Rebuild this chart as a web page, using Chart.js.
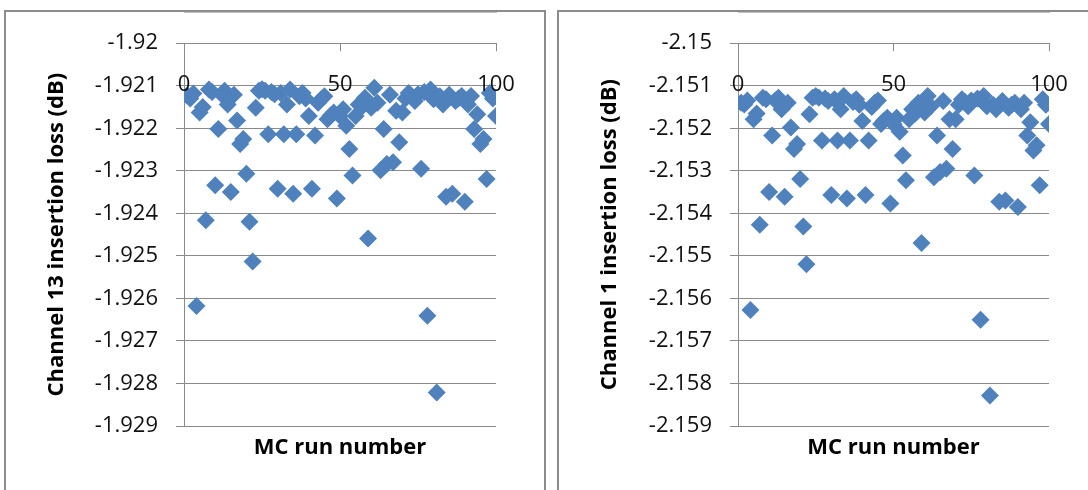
<!DOCTYPE html>
<html>
<head>
<meta charset="utf-8">
<script src="https://cdn.jsdelivr.net/npm/chart.js@4"></script>
<style>
  html, body { margin: 0; padding: 0; background: #fff; overflow: hidden; width: 1088px; height: 490px; }
  .panel { position: absolute; top: 10px; width: 538px; height: 480px; border: 2px solid #8c8c8c; background: #fff; }
  #p1 { left: 4px; }
  #p2 { left: 557px; }
  canvas { display: block; }
</style>
</head>
<body>
<div class="panel" id="p1"><canvas id="ch13" width="538" height="480"></canvas></div>
<div class="panel" id="p2"><canvas id="ch1" width="538" height="480"></canvas></div>
<script>
// MC run numbers
const runs = [1,2,3,4,5,6,7,8,9,10,11,12,13,14,15,16,17,18,19,20,
  21,22,23,24,25,26,27,28,29,30,31,32,33,34,35,36,37,38,39,40,
  41,42,43,44,45,46,47,48,49,50,51,52,53,54,55,56,57,58,59,60,
  61,62,63,64,65,66,67,68,69,70,71,72,73,74,75,76,77,78,79,80,
  81,82,83,84,85,86,87,88,89,90,91,92,93,94,95,96,97,98,99,100];

// channel 13 insertion loss (dB)
const ch13Loss = [
  -1.92123, -1.92130, -1.92118, -1.92618, -1.92163, -1.92150, -1.92416, -1.92109, -1.92115, -1.92334,
  -1.92202, -1.92120, -1.92112, -1.92144, -1.92350, -1.92121, -1.92182, -1.92237, -1.92225, -1.92307,
  -1.92420, -1.92513, -1.92152, -1.92112, -1.92108, -1.92112, -1.92214, -1.92115, -1.92120, -1.92342,
  -1.92117, -1.92214, -1.92144, -1.92109, -1.92354, -1.92214, -1.92125, -1.92117, -1.92130, -1.92171,
  -1.92342, -1.92217, -1.92140, -1.92132, -1.92125, -1.92179, -1.92170, -1.92163, -1.92365, -1.92171,
  -1.92155, -1.92194, -1.92249, -1.92311, -1.92171, -1.92144, -1.92150, -1.92128, -1.92459, -1.92152,
  -1.92105, -1.92140, -1.92299, -1.92202, -1.92284, -1.92121, -1.92280, -1.92159, -1.92233, -1.92163,
  -1.92130, -1.92117, -1.92125, -1.92136, -1.92120, -1.92295, -1.92115, -1.92641, -1.92109, -1.92132,
  -1.92821, -1.92125, -1.92144, -1.92361, -1.92121, -1.92354, -1.92136, -1.92130, -1.92124, -1.92373,
  -1.92144, -1.92124, -1.92202, -1.92167, -1.92237, -1.92225, -1.92319, -1.92117, -1.92130, -1.92171
];

// channel 1 insertion loss (dB)
const ch1Loss = [
  -2.15140, -2.15144, -2.15135, -2.15627, -2.15179, -2.15165, -2.15427, -2.15128, -2.15132, -2.15350,
  -2.15217, -2.15135, -2.15128, -2.15155, -2.15361, -2.15140, -2.15198, -2.15249, -2.15237, -2.15319,
  -2.15431, -2.15520, -2.15167, -2.15128, -2.15124, -2.15128, -2.15229, -2.15130, -2.15136, -2.15357,
  -2.15132, -2.15229, -2.15155, -2.15124, -2.15365, -2.15229, -2.15138, -2.15132, -2.15145, -2.15183,
  -2.15357, -2.15229, -2.15150, -2.15140, -2.15135, -2.15190, -2.15182, -2.15175, -2.15377, -2.15190,
  -2.15175, -2.15208, -2.15264, -2.15322, -2.15179, -2.15155, -2.15165, -2.15140, -2.15470, -2.15163,
  -2.15124, -2.15148, -2.15315, -2.15217, -2.15303, -2.15136, -2.15295, -2.15179, -2.15249, -2.15179,
  -2.15145, -2.15132, -2.15138, -2.15148, -2.15135, -2.15311, -2.15130, -2.15650, -2.15124, -2.15148,
  -2.15828, -2.15145, -2.15155, -2.15373, -2.15136, -2.15370, -2.15152, -2.15145, -2.15140, -2.15385,
  -2.15155, -2.15140, -2.15217, -2.15186, -2.15252, -2.15240, -2.15334, -2.15132, -2.15145, -2.15190
];

const xTicks = [0, 50, 100];
const ch13Ticks = [-1.92, -1.921, -1.922, -1.923, -1.924, -1.925, -1.926, -1.927, -1.928, -1.929];
const ch1Ticks = [-2.15, -2.151, -2.152, -2.153, -2.154, -2.155, -2.156, -2.157, -2.158, -2.159];

const FONT = "'Open Sans', 'Liberation Sans', sans-serif";
const GRID = '#8a8a8a';

function makeChart(id, yTitle, ys, yTicks, leftW) {
  new Chart(document.getElementById(id), {
    type: 'scatter',
    data: {
      datasets: [{
        data: runs.map((r, i) => ({ x: r, y: ys[i] })),
        pointStyle: 'rectRot',
        pointRadius: 9,
        backgroundColor: '#4f81bd',
        borderColor: '#4f81bd',
        borderWidth: 0
      }]
    },
    options: {
      responsive: false,
      animation: false,
      layout: { padding: { left: 0, top: 0, right: 48, bottom: 31 } },
      plugins: { legend: { display: false }, tooltip: { enabled: false } },
      scales: {
        x: {
          type: 'linear', position: 'top', min: 0, max: 100,
          afterBuildTicks: s => { s.ticks = xTicks.map(v => ({ value: v })); },
          afterFit: s => { s.height = 28; },
          grid: { drawOnChartArea: false, drawTicks: true, tickLength: -8, color: GRID, z: 1 },
          border: { display: true, color: GRID },
          // mirrored labels sit inside the plot, just under the top axis
          ticks: { mirror: true, padding: 28, z: 1, color: '#111', maxRotation: 0,
                   font: { family: FONT, size: 22 } }
        },
        x2: {
          type: 'linear', axis: 'x', position: 'bottom', min: 0, max: 100,
          afterFit: s => { s.height = 35; },
          grid: { display: false }, border: { display: false },
          ticks: { display: false },
          title: { display: true, text: 'MC run number', color: '#000', padding: 0,
                   font: { family: FONT, size: 22, weight: 'bold' } }
        },
        y: {
          type: 'linear', min: yTicks[yTicks.length - 1], max: yTicks[0],
          afterBuildTicks: s => { s.ticks = yTicks.map(v => ({ value: v })); },
          afterFit: s => { s.width = leftW; },
          grid: { color: GRID, drawTicks: true, tickLength: 8 },
          border: { display: true, color: GRID },
          ticks: { padding: 18, color: '#111', font: { family: FONT, size: 22 },
                   callback: v => String(+v.toFixed(3)) },
          title: { display: true, text: yTitle, color: '#000', padding: { top: 38 },
                   font: { family: FONT, size: 22, weight: 'bold' } }
        }
      }
    }
  });
}

makeChart('ch13', 'Channel 13 insertion loss (dB)', ch13Loss, ch13Ticks, 178);
makeChart('ch1', 'Channel 1 insertion loss (dB)', ch1Loss, ch1Ticks, 179);
</script>
</body>
</html>
